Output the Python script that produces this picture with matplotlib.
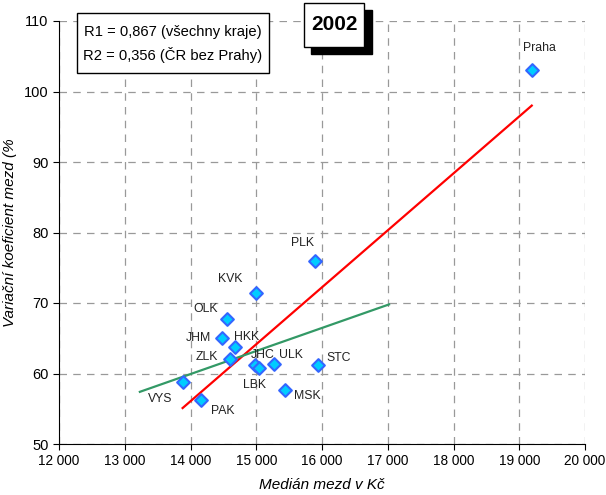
import matplotlib.pyplot as plt
from matplotlib.patches import Rectangle

plt.rcParams['font.family'] = ['Liberation Sans', 'DejaVu Sans']

# kraje: median mezd (Kc) a variacni koeficient (%)
kraje = ['Praha', 'PLK', 'KVK', 'OLK', 'JHM', 'HKK', 'ZLK', 'JHC', 'LBK',
         'ULK', 'STC', 'VYS', 'PAK', 'MSK']
median = [19190, 15890, 15000, 14550, 14480, 14670, 14600, 14980, 15040,
          15270, 15940, 13880, 14160, 15430]
var_koef = [103.1, 75.9, 71.4, 67.7, 65.1, 63.7, 62.1, 61.2, 60.8,
            61.4, 61.2, 58.8, 56.3, 57.7]

# trendove primky (koncove body)
r1_x = [13880, 19190]
r1_y = [55.1, 98.0]
r2_x = [13230, 17020]
r2_y = [57.4, 69.8]

# posun popisku v pixelech
offsets = {'Praha': (8, 22), 'PLK': (-12, 18), 'KVK': (-26, 14), 'OLK': (-21, 10),
           'JHM': (-24, 0), 'HKK': (12, 10), 'ZLK': (-23, 2), 'JHC': (8, 10),
           'LBK': (-4, -17), 'ULK': (17, 9), 'STC': (21, 7), 'MSK': (23, -6),
           'VYS': (-22, -17), 'PAK': (22, -11)}

fig = plt.figure(figsize=(6.06, 4.95), dpi=100)
ax = fig.add_axes([59 / 606, 1 - 444 / 495, 526 / 606, 423 / 495])

ax.plot(r1_x, r1_y, color='#FF0000', linewidth=1.6, zorder=2)
ax.plot(r2_x, r2_y, color='#339966', linewidth=1.6, zorder=2)
ax.scatter(median, var_koef, marker='D', s=42, facecolor='#00CCFF',
           edgecolor='#3366FF', linewidth=1.5, zorder=3)

for k, x, y in zip(kraje, median, var_koef):
    ax.annotate(k, (x, y), xytext=offsets[k], textcoords='offset pixels',
                ha='center', va='center', fontsize=8.8, color='#222222')

ax.set_xlim(12000, 20000)
ax.set_ylim(50, 110)
ax.set_xticks(range(12000, 20001, 1000))
ax.set_xticklabels(['{:,}'.format(v).replace(',', ' ') for v in range(12000, 20001, 1000)])
ax.set_yticks(range(50, 111, 10))
ax.tick_params(length=4, color='black')
ax.tick_params(axis='y', labelsize=10.5)
ax.tick_params(axis='x', labelsize=9.8)
ax.grid(True, linestyle=(0, (6, 5)), color='#999999', linewidth=0.9)
ax.set_axisbelow(True)
for s in ['top', 'right']:
    ax.spines[s].set_visible(False)
ax.set_xlabel('Medián mezd v Kč', fontstyle='italic', fontsize=11, labelpad=7)
ax.set_ylabel('Variační koeficient mezd (%', fontstyle='italic', fontsize=11, labelpad=5)

# box s korelacemi
fig.patches.append(Rectangle((77 / 606, 1 - 73 / 495), 192 / 606, 60 / 495,
                             transform=fig.transFigure, facecolor='white',
                             edgecolor='black', linewidth=1, zorder=5))
fig.text(173 / 606, 1 - 32 / 495, 'R1 = 0,867 (všechny kraje)', ha='center',
         va='center', fontsize=10.6, zorder=6)
fig.text(173 / 606, 1 - 55 / 495, 'R2 = 0,356 (ČR bez Prahy)', ha='center',
         va='center', fontsize=10.6, zorder=6)

# rok se stinem
fig.patches.append(Rectangle((311 / 606, 1 - 54 / 495), 61 / 606, 44 / 495,
                             transform=fig.transFigure, facecolor='black',
                             edgecolor='black', zorder=5))
fig.patches.append(Rectangle((304 / 606, 1 - 47 / 495), 60 / 606, 44 / 495,
                             transform=fig.transFigure, facecolor='white',
                             edgecolor='black', linewidth=1, zorder=6))
fig.text(334 / 606, 1 - 25 / 495, '2002', ha='center', va='center',
         fontsize=15, fontweight='bold', zorder=7)

fig.savefig('out.png', dpi=100)
